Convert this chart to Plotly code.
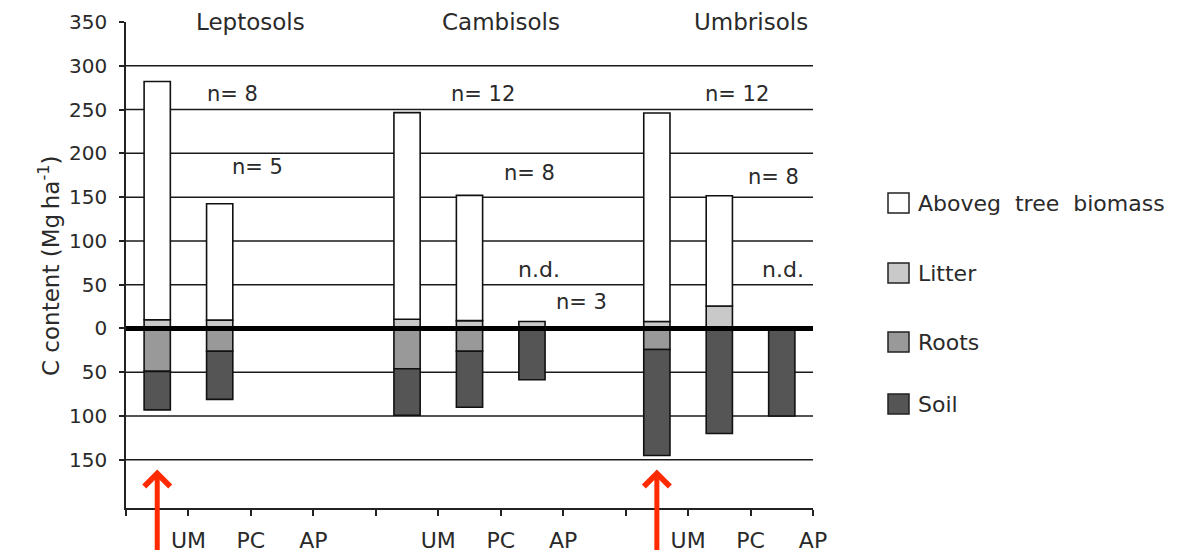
import plotly.graph_objects as go

# ---------------- data ----------------
soil_groups = ["Leptosols", "Cambisols", "Umbrisols"]
land_uses = ["UM", "PC", "AP"]

# one value per (soil group, land use), ordered Leptosols UM,PC,AP, Cambisols ..., Umbrisols ...
aboveground = [272, 133, None, 236, 143, None, 238, 126, None]
litter = [10, 9.5, None, 10.5, 9, 8, 8, 25.6, None]
roots = [49, 26, None, 46, 26, None, 24, None, None]       # plotted below zero
soil = [44, 55, None, 53, 64, 58.5, 121, 120, 100]          # plotted below zero
n_labels = ["n= 8", "n= 5", "", "n= 12", "n= 8", "n= 3", "n= 12", "n= 8", "n= 1"]
extra_nd = ["", "", "", "", "", "n.d.", "", "", "n.d."]
highlighted = [0, 6]   # Leptosols UM, Umbrisols UM (red arrows)

series_names = ["Aboveg\u00a0 tree\u00a0 biomass", "Litter", "Roots", "Soil"]
series_colors = ["#ffffff", "#c9c9c9", "#999999", "#555555"]

y_ticks = [350, 300, 250, 200, 150, 100, 50, 0, -50, -100, -150]
y_ticktext = [str(abs(v)) for v in y_ticks]
grid_values = [300, 250, 200, 150, 100, 50, -50, -100, -150]

# ---------------- layout helpers ----------------
FONT = "DejaVu Sans"
TXT = "#2a2a2a"
RED = "#ff2a00"
slots_per_group = len(land_uses) + 1
xs = [g * slots_per_group + u for g in range(len(soil_groups)) for u in range(len(land_uses))]
n_slots = slots_per_group * len(soil_groups) - 1  # 11

L, R, T, B = 126, 813, 22, 508
W, H = 1194, 552
def px2paper_x(px):
    return (px - L) / (R - L)
def px2paper_y(py):
    return (B - py) / (B - T)

fig = go.Figure()

def neg(vals):
    return [None if v is None else -v for v in vals]

stack = [
    ("Litter", litter, series_colors[1]),
    ("Aboveg tree biomass", aboveground, series_colors[0]),
    ("Roots", neg(roots), series_colors[2]),
    ("Soil", neg(soil), series_colors[3]),
]
for name, vals, col in stack:
    fig.add_trace(go.Bar(
        x=xs, y=vals, name=name, width=0.42,
        marker=dict(color=col, line=dict(color="#111111", width=1.6)),
        showlegend=False, hoverinfo="x+y+name",
    ))

shapes = []
for gv in grid_values:
    shapes.append(dict(type="line", xref="x", yref="y", x0=-0.5, x1=n_slots - 0.5, y0=gv, y1=gv,
                       line=dict(color="#1a1a1a", width=1.5), layer="below"))
# thick zero line above bars
shapes.append(dict(type="line", xref="x", yref="y", x0=-0.5, x1=n_slots - 0.5, y0=0, y1=0,
                   line=dict(color="#000000", width=5), layer="above"))

annotations = []
# group titles
for g, name in enumerate(soil_groups):
    annotations.append(dict(x=g * slots_per_group + 1.5, y=1.0, xref="x", yref="paper",
                            text=name, showarrow=False, yanchor="middle",
                            font=dict(family=FONT, size=23, color=TXT)))

# n labels (positions offset relative to bars)
n_pos = [(1.2, 268), (1.6, 184), None, (5.22, 268), (5.96, 177), (6.8, 30), (9.28, 268), (9.86, 173), (10.72, 30)]
nd_pos = {5: (6.12, 67), 8: (10.02, 67)}
for i, lab in enumerate(n_labels):
    if n_pos[i] is None or not lab:
        continue
    annotations.append(dict(x=n_pos[i][0], y=n_pos[i][1], xref="x", yref="y", text=lab,
                            showarrow=False, font=dict(family=FONT, size=21, color=TXT)))
for i, lab in enumerate(extra_nd):
    if lab:
        annotations.append(dict(x=nd_pos[i][0], y=nd_pos[i][1], xref="x", yref="y", text=lab,
                                showarrow=False, font=dict(family=FONT, size=22, color=TXT)))

# y axis title
annotations.append(dict(x=px2paper_x(32), y=px2paper_y(266), xref="paper", yref="paper",
                        text="C content (Mg\u2009ha<sup>-1</sup>)", textangle=-90, showarrow=False,
                        font=dict(family=FONT, size=23, color=TXT)))

# red arrows below highlighted bars
for i in highlighted:
    annotations.append(dict(x=xs[i], y=-161, xref="x", yref="y", ax=0, ay=82,
                            showarrow=True, arrowhead=4, arrowsize=1, arrowwidth=5,
                            arrowcolor=RED, text=""))

# manual legend
leg_y = [203, 273, 342, 404]
for name, col, py in zip(series_names, series_colors, leg_y):
    shapes.append(dict(type="rect", xref="paper", yref="paper",
                       x0=px2paper_x(888), x1=px2paper_x(909),
                       y0=px2paper_y(py + 10), y1=px2paper_y(py - 10),
                       fillcolor=col, line=dict(color="#222222", width=1.5)))
    annotations.append(dict(x=px2paper_x(916), y=px2paper_y(py), xref="paper", yref="paper",
                            text=name, showarrow=False, xanchor="left", yanchor="middle",
                            font=dict(family=FONT, size=22, color=TXT)))

tickvals_x, ticktext_x = [], []
for s in range(n_slots):
    u = s % slots_per_group
    if u < len(land_uses):
        tickvals_x.append(s + 0.5)
        ticktext_x.append(land_uses[u])

fig.update_layout(
    width=W, height=H,
    margin=dict(l=L, r=W - R, t=T, b=H - B, autoexpand=False),
    plot_bgcolor="white", paper_bgcolor="white",
    barmode="relative",
    shapes=shapes, annotations=annotations,
    showlegend=False,
    font=dict(family=FONT, color=TXT),
    xaxis=dict(range=[-0.5, n_slots - 0.5], tickvals=tickvals_x, ticktext=ticktext_x,
               showline=True, linecolor="#222222", linewidth=1.5, ticks="outside", ticklen=6,
               tickcolor="#222222", tickwidth=1.5, showgrid=False, zeroline=False, automargin=False,
               minor=dict(tick0=0.5, dtick=1, ticks="outside", ticklen=6, tickcolor="#222222",
                          tickwidth=1.5, showgrid=False),
               ticklabelstandoff=6, tickfont=dict(family=FONT, size=22, color=TXT)),
    yaxis=dict(range=[-205, 350], tickvals=y_ticks, ticktext=y_ticktext,
               showline=True, linecolor="#222222", linewidth=1.5, ticks="outside", ticklen=5,
               tickcolor="#222222", tickwidth=1.5, showgrid=False, zeroline=False, automargin=False,
               ticklabelstandoff=8, tickfont=dict(family=FONT, size=20, color=TXT)),
)

fig.write_html("out.html")
